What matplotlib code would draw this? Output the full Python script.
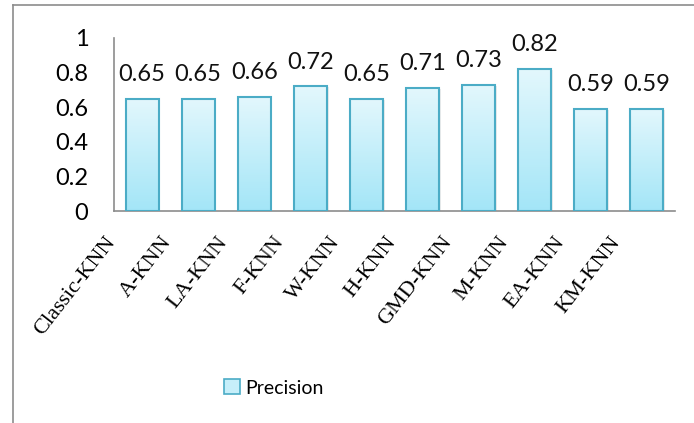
import numpy as np
import matplotlib
matplotlib.use("Agg")
from matplotlib import pyplot as plt
from matplotlib.patches import Rectangle
from matplotlib.lines import Line2D
from matplotlib.transforms import ScaledTranslation

methods = ["Classic-KNN", "A-KNN", "LA-KNN", "F-KNN", "W-KNN",
           "H-KNN", "GMD-KNN", "M-KNN", "EA-KNN", "KM-KNN"]
precision = [0.65, 0.65, 0.66, 0.72, 0.65, 0.71, 0.73, 0.82, 0.59, 0.59]
yticks = [0, 0.2, 0.4, 0.6, 0.8, 1]
series_name = "Precision"

W, H = 694, 423
fig = plt.figure(figsize=(W / 100, H / 100), dpi=100)

# outer chart frame: only left and top edges are visible
fx, fy = 12.5 / W, 1 - 5.5 / H
fig.add_artist(Line2D([fx, fx], [0, fy], transform=fig.transFigure,
                      color="#8c8c8c", linewidth=1.2))
fig.add_artist(Line2D([fx, 1], [fy, fy], transform=fig.transFigure,
                      color="#8c8c8c", linewidth=1.2))

ax = fig.add_axes([114 / W, 1 - 211 / H, (675 - 114) / W, 173 / H])
ax.set_xlim(-0.5, len(methods) - 0.5)
ax.set_ylim(0, 1)

# gradient for bar fill
grad = np.linspace(0, 1, 256).reshape(-1, 1)
top_col = np.array([0.89, 0.97, 0.99])
bot_col = np.array([0.64, 0.90, 0.97])
img = top_col * (1 - grad[..., None]) + bot_col * grad[..., None]

bw = 0.59
bars = ax.bar(range(len(methods)), precision, width=bw, color="none",
              edgecolor="#4bacc6", linewidth=1.5, zorder=3, label=series_name)
for b in bars:
    x0, y0 = b.get_x(), b.get_y()
    w, h = b.get_width(), b.get_height()
    # soft shadow
    ax.add_patch(Rectangle((x0 + 0.03, y0), w, h - 0.006, facecolor="#000000",
                           alpha=0.08, edgecolor="none", zorder=1))
    im = ax.imshow(img, extent=(x0, x0 + w, y0, y0 + h), aspect="auto",
                   origin="upper", zorder=2)
    im.set_clip_path(b)

for i, v in enumerate(precision):
    ax.annotate(f"{v:g}", (i, v), xytext=(0, 10), textcoords="offset points",
                ha="center", va="bottom", fontsize=17, family="Lato",
                color="#111111")

for s in ["top", "right"]:
    ax.spines[s].set_visible(False)
for s in ["left", "bottom"]:
    ax.spines[s].set_color("#8c8c8c")
    ax.spines[s].set_linewidth(1.2)

ax.set_yticks(yticks)
ax.set_yticklabels([f"{t:g}" for t in yticks], family="Lato", fontsize=17)
ax.tick_params(axis="y", length=0, pad=18.5)
ax.set_xticks(range(len(methods)))
ax.set_xticklabels(methods, rotation=52, ha="right", va="center",
                   rotation_mode="anchor", family="Liberation Serif", fontsize=16)
ax.tick_params(axis="x", length=0, pad=0)
off = ScaledTranslation(-30 / 100, -28 / 100, fig.dpi_scale_trans)
for lab in ax.get_xticklabels():
    lab.set_transform(lab.get_transform() + off)

leg = fig.legend(handles=[Rectangle((0, 0), 1, 1, facecolor="#c6effa",
                                    edgecolor="#4bacc6", linewidth=1.2)],
                 labels=[series_name], loc="center",
                 bbox_to_anchor=(274 / W, 1 - 388 / H), frameon=False,
                 prop={"family": "Lato", "size": 14}, handlelength=0.8,
                 handleheight=0.8, handletextpad=0.3)

fig.savefig("out.png", dpi=100)
